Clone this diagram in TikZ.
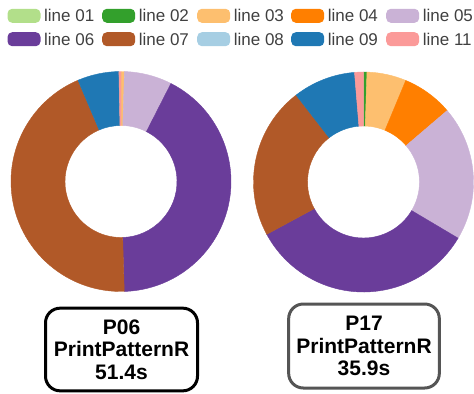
\documentclass[tikz,border=0pt]{standalone}
\usepackage{fontspec}
\setmainfont{Liberation Sans}
\usetikzlibrary{positioning}

\definecolor{line01}{HTML}{B2DF8A}
\definecolor{line02}{HTML}{33A02C}
\definecolor{line03}{HTML}{FDBF6F}
\definecolor{line04}{HTML}{FF7F00}
\definecolor{line05}{HTML}{CAB2D6}
\definecolor{line06}{HTML}{6A3D9A}
\definecolor{line07}{HTML}{B15928}
\definecolor{line08}{HTML}{A6CEE3}
\definecolor{line09}{HTML}{1F78B4}
\definecolor{line11}{HTML}{FB9A99}
\definecolor{legendgray}{HTML}{404040}
\definecolor{boxgray}{HTML}{555555}

\tikzset{every picture/.style={line width=0.75pt}}
\tikzset{
	swatch/.style={rounded corners=3.5pt, minimum width=24.75pt, minimum height=10.5pt, inner sep=0pt},
	legendtext/.style={font=\fontsize{12.75}{15}\selectfont, text=legendgray, inner sep=0pt},
	slice/.style={line width=0.3pt},
	timebox/.style={draw, rounded corners=11pt, line width=2.25pt, minimum width=114pt, minimum height=62pt, inner sep=0pt, align=center, font=\bfseries\fontsize{15.75}{16.9}\selectfont}
}

\begin{document}
\begin{tikzpicture}[x=0.75pt,y=0.75pt,yscale=-1,xscale=1]
	\useasboundingbox (0,0) rectangle (474,393);

	% Legend, first row
	\node[swatch, fill=line01] (sw01) at (24,15.8) {};
	\node[legendtext, right=2pt of sw01] (lb01) {line 01};
	\node[swatch, fill=line02] (sw02) at (118.7,15.8) {};
	\node[legendtext, right=2pt of sw02] (lb02) {line 02};
	\node[swatch, fill=line03] (sw03) at (213.7,15.8) {};
	\node[legendtext, right=2pt of sw03] (lb03) {line 03};
	\node[swatch, fill=line04] (sw04) at (307.7,15.8) {};
	\node[legendtext, right=2pt of sw04] (lb04) {line 04};
	\node[swatch, fill=line05] (sw05) at (402.7,15.8) {};
	\node[legendtext, right=2pt of sw05] (lb05) {line 05};
	% Legend, second row
	\node[swatch, fill=line06] (sw06) at (24,39.2) {};
	\node[legendtext, right=2pt of sw06] (lb06) {line 06};
	\node[swatch, fill=line07] (sw07) at (118.7,39.2) {};
	\node[legendtext, right=2pt of sw07] (lb07) {line 07};
	\node[swatch, fill=line08] (sw08) at (213.7,39.2) {};
	\node[legendtext, right=2pt of sw08] (lb08) {line 08};
	\node[swatch, fill=line09] (sw09) at (307.7,39.2) {};
	\node[legendtext, right=2pt of sw09] (lb09) {line 09};
	\node[swatch, fill=line11] (sw11) at (402.7,39.2) {};
	\node[legendtext, right=2pt of sw11] (lb11) {line 11};

	%Shape: Donut P06
	\begin{scope}[shift={(121,181.5)}]
	\filldraw[slice, line03] (-90:110) arc[start angle=-90, end angle=-88.2, radius=110] -- (-88.2:56) arc[start angle=-88.2, end angle=-90, radius=56] -- cycle;
	\filldraw[slice, line05] (-88.2:110) arc[start angle=-88.2, end angle=-63, radius=110] -- (-63:56) arc[start angle=-63, end angle=-88.2, radius=56] -- cycle;
	\filldraw[slice, line06] (-63:110) arc[start angle=-63, end angle=88.3, radius=110] -- (88.3:56) arc[start angle=88.3, end angle=-63, radius=56] -- cycle;
	\filldraw[slice, line07] (88.3:110) arc[start angle=88.3, end angle=247, radius=110] -- (247:56) arc[start angle=247, end angle=88.3, radius=56] -- cycle;
	\filldraw[slice, line09] (247:110) arc[start angle=247, end angle=268.9, radius=110] -- (268.9:56) arc[start angle=268.9, end angle=247, radius=56] -- cycle;
	\filldraw[slice, line11] (268.9:110) arc[start angle=268.9, end angle=270, radius=110] -- (270:56) arc[start angle=270, end angle=268.9, radius=56] -- cycle;
	\end{scope}

	%Shape: Donut P17
	\begin{scope}[shift={(363.5,182)}]
	\filldraw[slice, line02] (-90:110) arc[start angle=-90, end angle=-88.2, radius=110] -- (-88.2:56) arc[start angle=-88.2, end angle=-90, radius=56] -- cycle;
	\filldraw[slice, line03] (-88.2:110) arc[start angle=-88.2, end angle=-67.4, radius=110] -- (-67.4:56) arc[start angle=-67.4, end angle=-88.2, radius=56] -- cycle;
	\filldraw[slice, line04] (-67.4:110) arc[start angle=-67.4, end angle=-40.5, radius=110] -- (-40.5:56) arc[start angle=-40.5, end angle=-67.4, radius=56] -- cycle;
	\filldraw[slice, line05] (-40.5:110) arc[start angle=-40.5, end angle=30.7, radius=110] -- (30.7:56) arc[start angle=30.7, end angle=-40.5, radius=56] -- cycle;
	\filldraw[slice, line06] (30.7:110) arc[start angle=30.7, end angle=151.6, radius=110] -- (151.6:56) arc[start angle=151.6, end angle=30.7, radius=56] -- cycle;
	\filldraw[slice, line07] (151.6:110) arc[start angle=151.6, end angle=232.2, radius=110] -- (232.2:56) arc[start angle=232.2, end angle=151.6, radius=56] -- cycle;
	\filldraw[slice, line09] (232.2:110) arc[start angle=232.2, end angle=265.3, radius=110] -- (265.3:56) arc[start angle=265.3, end angle=232.2, radius=56] -- cycle;
	\filldraw[slice, line11] (265.3:110) arc[start angle=265.3, end angle=270, radius=110] -- (270:56) arc[start angle=270, end angle=265.3, radius=56] -- cycle;
	\end{scope}

	% Text Node
	\node[timebox] (p06) at (121.5,349.5) {P06\\PrintPatternR\\51.4s};
	% Text Node
	\node[timebox, draw=boxgray, minimum height=63pt, minimum width=113pt] (p17) at (364,346) {P17\\PrintPatternR\\35.9s};

\end{tikzpicture}
\end{document}
